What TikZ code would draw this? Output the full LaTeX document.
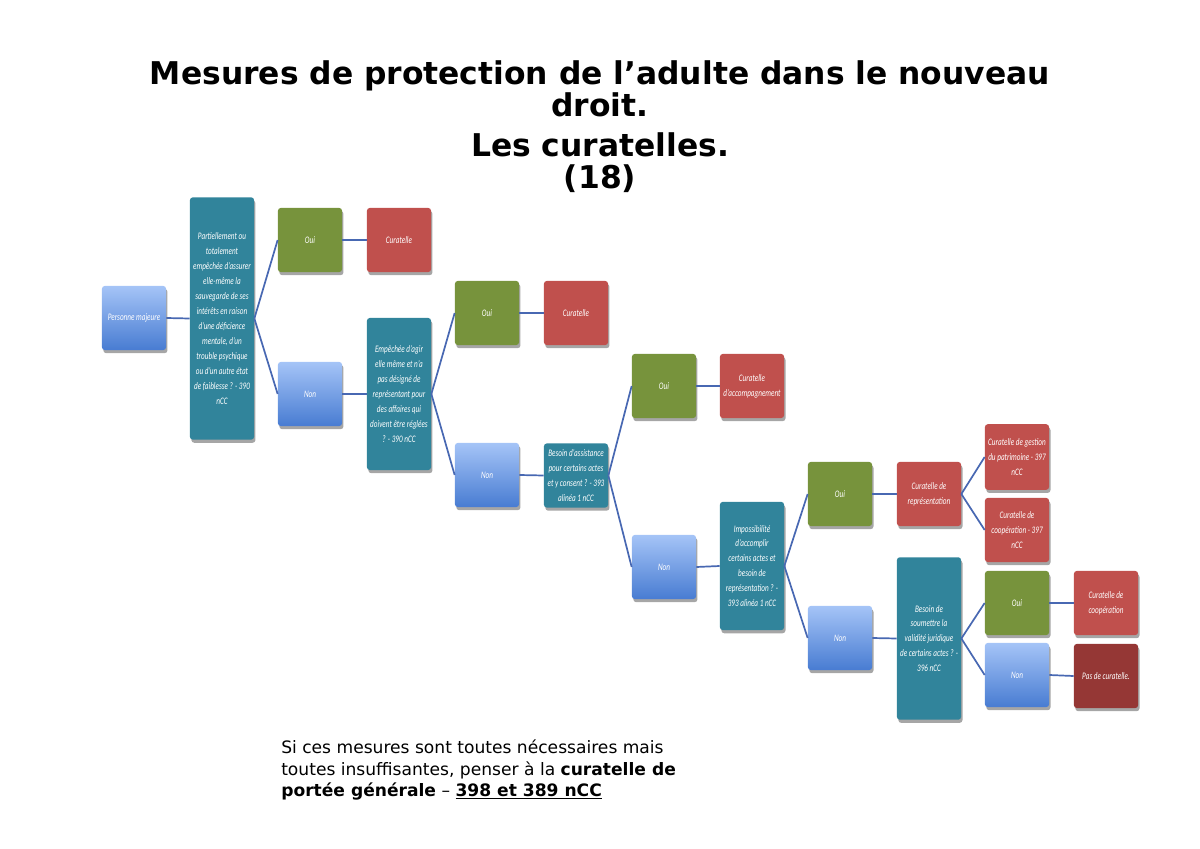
\documentclass[tikz,border=0pt]{standalone}
\usepackage{fontspec}
\setmainfont{DejaVu Sans}
\newfontfamily\boxfont[FakeStretch=0.72]{Carlito}
\usetikzlibrary{shadows}
\definecolor{bleuclair}{RGB}{165,196,247}
\definecolor{bleu}{RGB}{72,124,210}
\definecolor{sarcelle}{RGB}{49,132,155}
\definecolor{vert}{RGB}{119,147,60}
\definecolor{rouge}{RGB}{192,80,77}
\definecolor{rougefonce}{RGB}{149,55,53}
\definecolor{trait}{RGB}{72,104,178}
\begin{document}
\begin{tikzpicture}[x=0.7017pt,y=-0.7017pt,
        box/.style = {rounded corners=2pt, minimum width=45pt, minimum height=45pt, inner sep=0.5pt, align=center, text=white,
                font=\boxfont\itshape\fontsize{7}{10.5}\selectfont,
                drop shadow={shadow xshift=1pt, shadow yshift=-2.2pt, fill=black!35, opacity=1}},
        start/.style = {box, top color=bleuclair, bottom color=bleu},
        non/.style = {box, top color=bleuclair, bottom color=bleu},
        quest/.style = {box, fill=sarcelle},
        oui/.style = {box, fill=vert},
        cur/.style = {box, fill=rouge},
        fin/.style = {box, fill=rougefonce},
        lien/.style = {draw=trait, line width=1.2pt}]
        \useasboundingbox (0,0) rectangle (1200,849);
        \node[anchor=north, align=center, font=\bfseries\fontsize{22}{22.2}\selectfont] (titre) at (600,56) {Mesures de protection de l’adulte dans le nouveau\\ droit.\\[6pt] Les curatelles.\\ (18)};
        \node[start] (1) at (134,318) {Personne majeure};
        \node[quest, minimum height=170pt] (2) at (222,318.5) {Partiellement ou\\ totalement\\ empêchée d’assurer\\ elle-même la\\ sauvegarde de ses\\ intérêts en raison\\ d’une déficience\\ mentale, d’un\\ trouble psychique\\ ou d’un autre état\\ de faiblesse ? - 390\\ nCC};
        \node[oui] (3) at (310,240) {Oui};
        \node[cur] (4) at (399,240) {Curatelle};
        \node[non] (5) at (310,394) {Non};
        \node[quest, minimum height=106.7pt] (6) at (399,394) {Empêchée d’agir\\ elle même et n’a\\ pas désigné de\\ représentant pour\\ des affaires qui\\ doivent être réglées\\ ? - 390 nCC};
        \node[oui] (7) at (487,313) {Oui};
        \node[cur] (8) at (576,313) {Curatelle};
        \node[non] (9) at (487,475) {Non};
        \node[quest] (10) at (576,475.5) {Besoin d’assistance\\ pour certains actes\\ et y consent ? - 393\\ alinéa 1 nCC};
        \node[oui] (11) at (664,386) {Oui};
        \node[cur] (12) at (752,386) {Curatelle\\ d’accompagnement};
        \node[non] (13) at (664,567) {Non};
        \node[quest, minimum height=90pt] (14) at (752,566) {Impossibilité\\ d’accomplir\\ certains actes et\\ besoin de\\ représentation ? -\\ 393 alinéa 1 nCC};
        \node[oui] (15) at (840,494) {Oui};
        \node[cur] (16) at (929,494) {Curatelle de\\ représentation};
        \node[cur, minimum height=46pt] (17) at (1017,457) {Curatelle de gestion\\ du patrimoine - 397\\ nCC};
        \node[cur] (18) at (1017,530) {Curatelle de\\ coopération - 397\\ nCC};
        \node[non] (19) at (840,638) {Non};
        \node[quest, minimum height=114pt] (20) at (929,638.5) {Besoin de\\ soumettre la\\ validité juridique\\ de certains actes ? -\\ 396 nCC};
        \node[oui] (21) at (1017,603) {Oui};
        \node[cur] (22) at (1106,603) {Curatelle de\\ coopération};
        \node[non] (23) at (1017,675) {Non};
        \node[fin] (24) at (1106,676) {Pas de curatelle.};
        \foreach \a/\b in {1/2,2/3,3/4,2/5,5/6,6/7,7/8,6/9,9/10,10/11,11/12,10/13,13/14,14/15,15/16,16/17,16/18,14/19,19/20,20/21,21/22,20/23,23/24}
                \draw[lien] (\a.east) -- (\b.west);
        \node[anchor=north west, align=left, inner sep=0pt, font=\fontsize{12}{14.8}\selectfont] (note) at (281,740) {Si ces mesures sont toutes nécessaires mais\\ toutes insuffisantes, penser à la \textbf{curatelle de}\\ \textbf{portée générale} – \underline{\textbf{398 et 389 nCC}}};
\end{tikzpicture}
\end{document}
